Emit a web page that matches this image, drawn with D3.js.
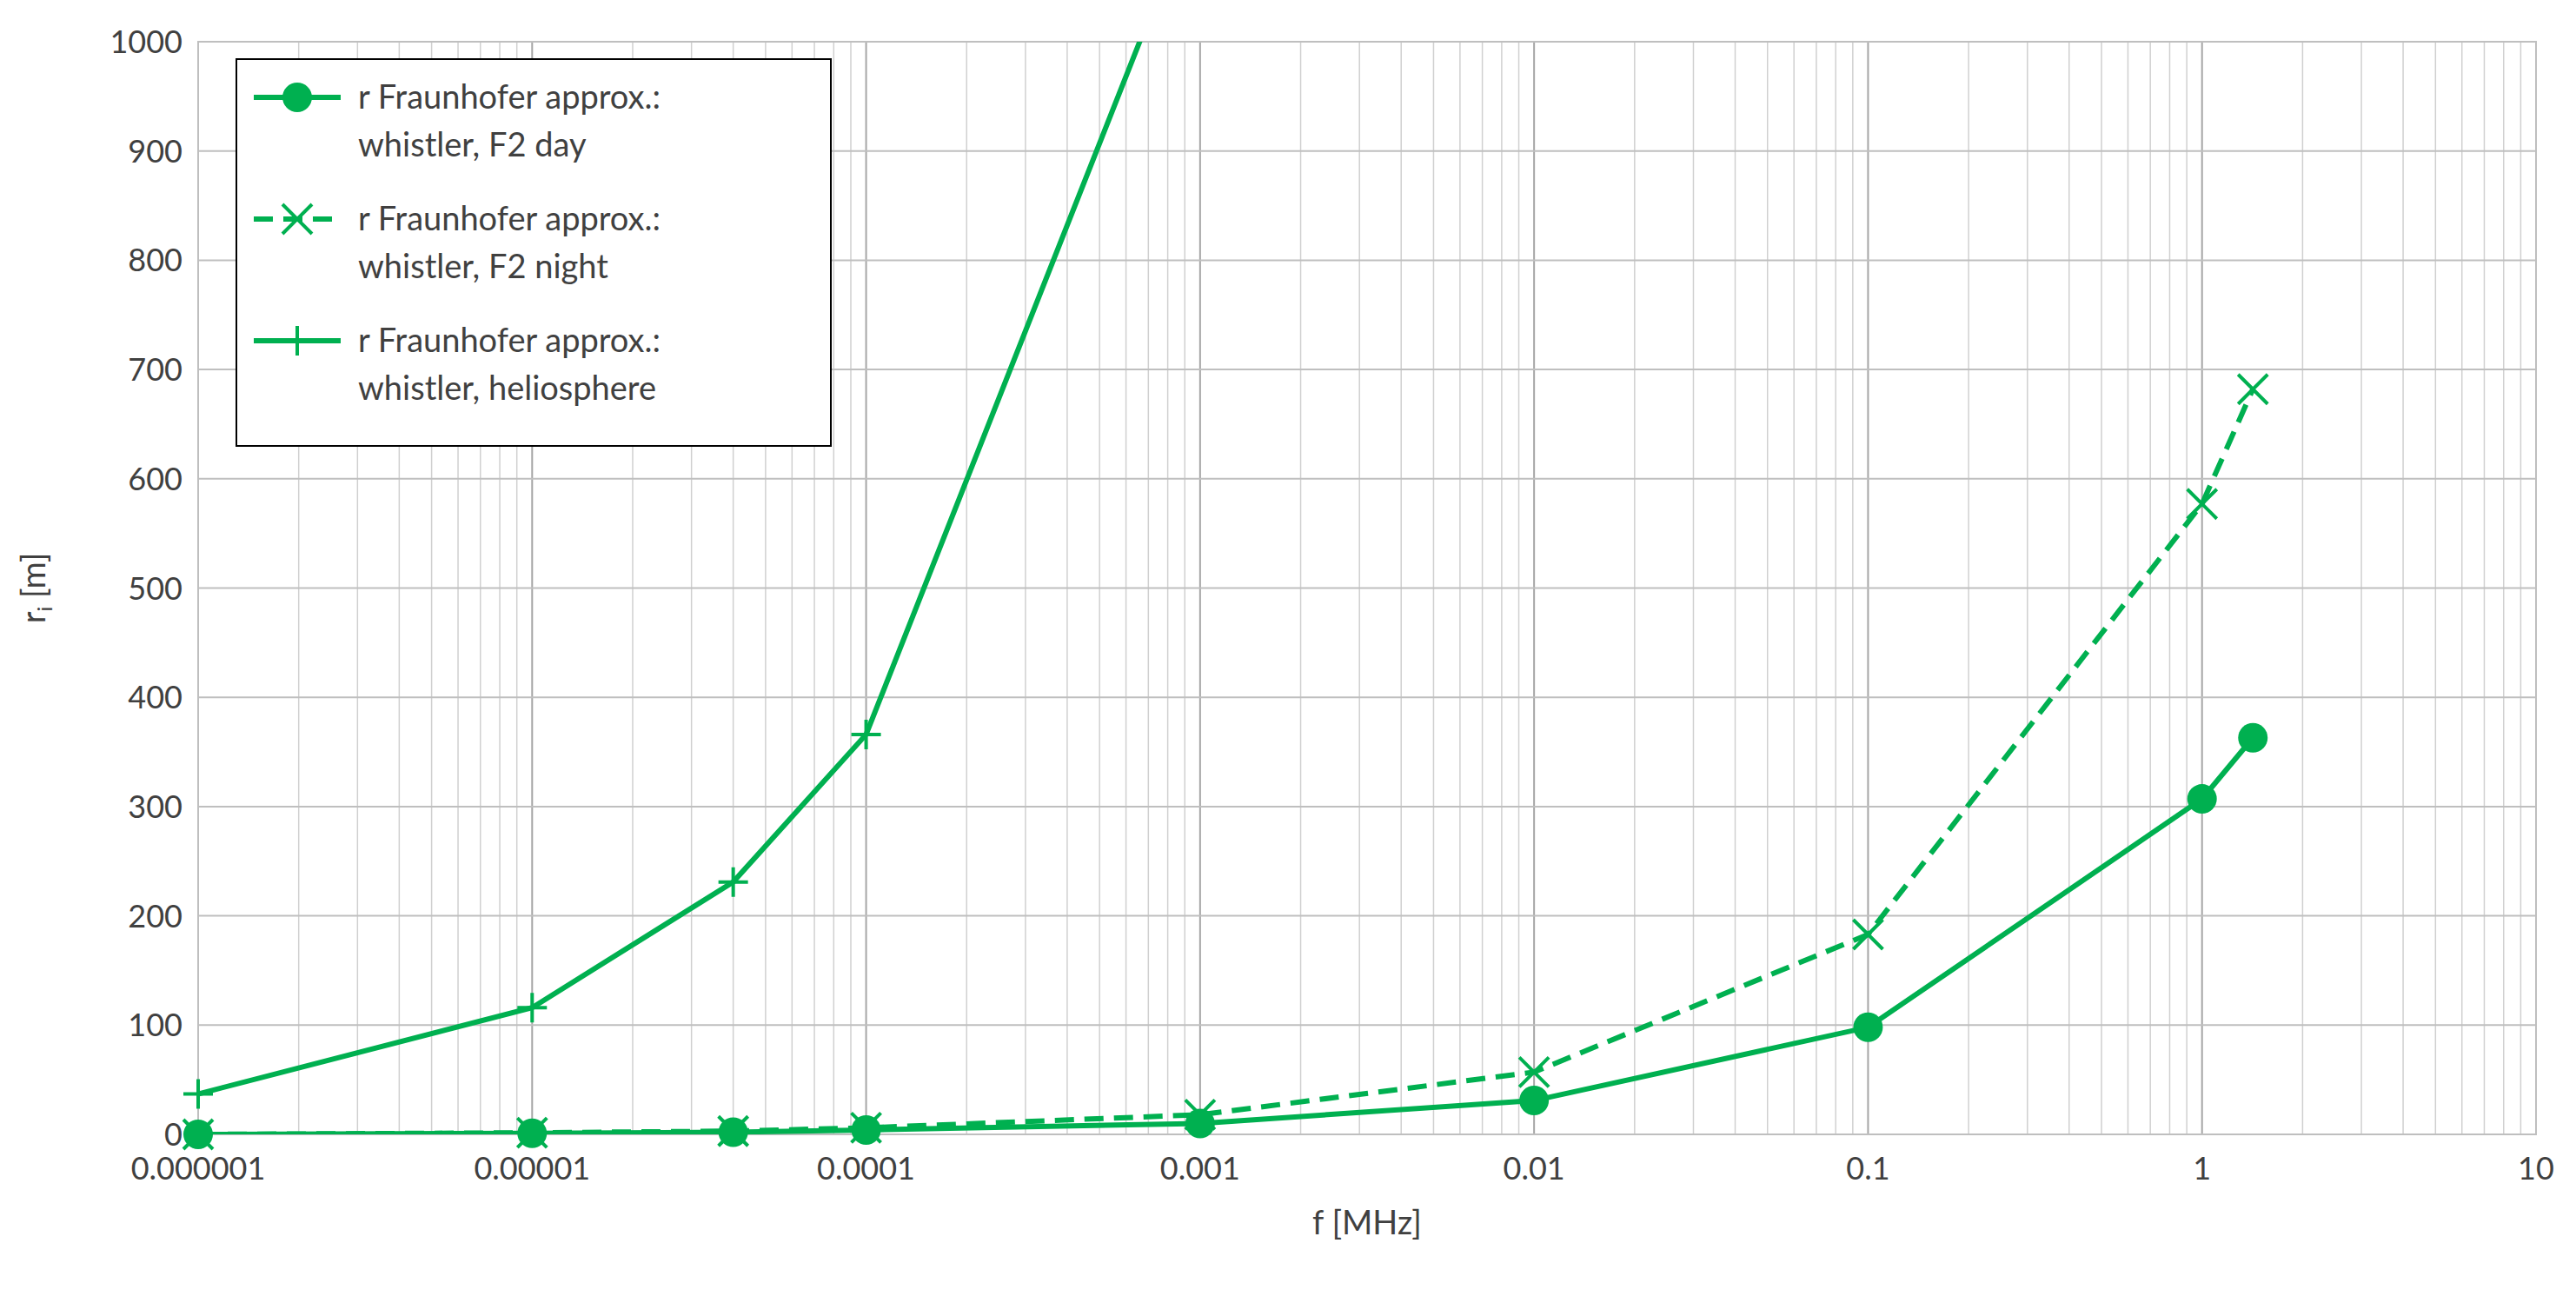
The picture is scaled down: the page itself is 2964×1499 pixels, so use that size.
<!DOCTYPE html><html><head><meta charset="utf-8">
<script src="https://cdn.jsdelivr.net/npm/d3@7"></script>
<style>body{margin:0;background:#fff}svg{font-family:Lato,"Open Sans",sans-serif}</style></head><body>
<svg id="c" width="2964" height="1499"></svg>
<script>
const freqs = [1e-6,1e-5,4e-5,1e-4,1e-3,1e-2,1e-1,1,1.42];
const dayVals = [0,1,2,4,10,31,98,307,363];
const nightVals = [0,1.5,3,6,18,57,183,577,682];
const helioFreqs = [1e-6,1e-5,4e-5,1e-4,1e-3];
const helioVals = [37,116,231,366,1140];
const xTicks = [1e-6,1e-5,1e-4,1e-3,1e-2,1e-1,1,10];
const xTickLabels = ["0.000001","0.00001","0.0001","0.001","0.01","0.1","1","10"];
const yTicks = d3.range(0,1001,100);
const legendLabels = [["r Fraunhofer approx.:","whistler, F2 day"],["r Fraunhofer approx.:","whistler, F2 night"],["r Fraunhofer approx.:","whistler, heliosphere"]];
const green="#00b050";
const svg=d3.select("#c");
const L=228,R=2918,T=48,B=1305;
const x=d3.scaleLog().domain([1e-6,10]).range([L,R]);
const y=d3.scaleLinear().domain([0,1000]).range([B,T]);
const minors=[];for(let e=-6;e<1;e++)for(let k=2;k<10;k++)minors.push(k*Math.pow(10,e));
svg.append("g").selectAll("line").data(minors).join("line").attr("x1",d=>x(d)).attr("x2",d=>x(d)).attr("y1",T).attr("y2",B).attr("stroke","#d0d0d0").attr("stroke-width",1.5);
svg.append("g").selectAll("line").data(xTicks).join("line").attr("x1",d=>x(d)).attr("x2",d=>x(d)).attr("y1",T).attr("y2",B).attr("stroke","#a6a6a6").attr("stroke-width",2);
svg.append("g").selectAll("line").data(yTicks).join("line").attr("x1",L).attr("x2",R).attr("y1",d=>y(d)).attr("y2",d=>y(d)).attr("stroke","#bfbfbf").attr("stroke-width",2);
svg.append("rect").attr("x",L).attr("y",T).attr("width",R-L).attr("height",B-T).attr("fill","none").attr("stroke","#bfbfbf").attr("stroke-width",2);
svg.append("g").selectAll("text").data(xTicks).join("text").attr("x",d=>x(d)).attr("y",B+52).attr("text-anchor","middle").attr("font-size",36).attr("fill","#404040").text((d,i)=>xTickLabels[i]);
svg.append("g").selectAll("text").data(yTicks).join("text").attr("x",L-18).attr("y",d=>y(d)+13).attr("text-anchor","end").attr("font-size",36).attr("fill","#404040").text(d=>d);
svg.append("text").attr("x",(L+R)/2).attr("y",1420).attr("text-anchor","middle").attr("font-size",38).attr("fill","#404040").text("f [MHz]");
const yl=svg.append("text").attr("transform",`translate(52,${(T+B)/2}) rotate(-90)`).attr("text-anchor","middle").attr("font-size",38).attr("fill","#404040");
yl.append("tspan").text("r");yl.append("tspan").attr("font-size",24).attr("dy",8).text("i");yl.append("tspan").attr("dy",-8).text(" [m]");
svg.append("clipPath").attr("id","cp").append("rect").attr("x",L).attr("y",T).attr("width",R-L).attr("height",B-T);
const g=svg.append("g").attr("clip-path","url(#cp)");
const gm=svg.append("g");
const line=d3.line().x(d=>x(d[0])).y(d=>y(d[1]));
const day=freqs.map((f,i)=>[f,dayVals[i]]), night=freqs.map((f,i)=>[f,nightVals[i]]), helio=helioFreqs.map((f,i)=>[f,helioVals[i]]);
g.append("path").attr("d",line(night)).attr("fill","none").attr("stroke",green).attr("stroke-width",6).attr("stroke-dasharray","22,12");
g.append("path").attr("d",line(day)).attr("fill","none").attr("stroke",green).attr("stroke-width",6);
g.append("path").attr("d",line(helio)).attr("fill","none").attr("stroke",green).attr("stroke-width",6);
function cross(sel,s){sel.append("path").attr("d",`M${-s},${-s}L${s},${s}M${-s},${s}L${s},${-s}`).attr("stroke",green).attr("stroke-width",4);}
function plus(sel,s){sel.append("path").attr("d",`M${-s},0L${s},0M0,${-s}L0,${s}`).attr("stroke",green).attr("stroke-width",4);}
night.forEach(d=>cross(gm.append("g").attr("transform",`translate(${x(d[0])},${y(d[1])})`),17));
day.forEach(d=>gm.append("circle").attr("cx",x(d[0])).attr("cy",y(d[1])).attr("r",17).attr("fill",green));
helio.filter(d=>d[1]<=1000).forEach(d=>plus(gm.append("g").attr("transform",`translate(${x(d[0])},${y(d[1])})`),17));
const lg=svg.append("g");
lg.append("rect").attr("x",272).attr("y",68).attr("width",684).attr("height",445).attr("fill","#fff").attr("stroke","#000").attr("stroke-width",2);
legendLabels.forEach((lb,i)=>{
 const cy=112+i*140;
 const s=lg.append("g");
 s.append("line").attr("x1",292).attr("x2",392).attr("y1",cy).attr("y2",cy).attr("stroke",green).attr("stroke-width",6).attr("stroke-dasharray",i==1?"22,12":null);
 const m=s.append("g").attr("transform",`translate(342,${cy})`);
 if(i==0)m.append("circle").attr("r",17).attr("fill",green);else if(i==1)cross(m,17);else plus(m,17);
 s.append("text").attr("x",412).attr("y",cy+13).attr("font-size",38).attr("fill","#404040").text(lb[0]);
 s.append("text").attr("x",412).attr("y",cy+68).attr("font-size",38).attr("fill","#404040").text(lb[1]);
});
</script></body></html>
